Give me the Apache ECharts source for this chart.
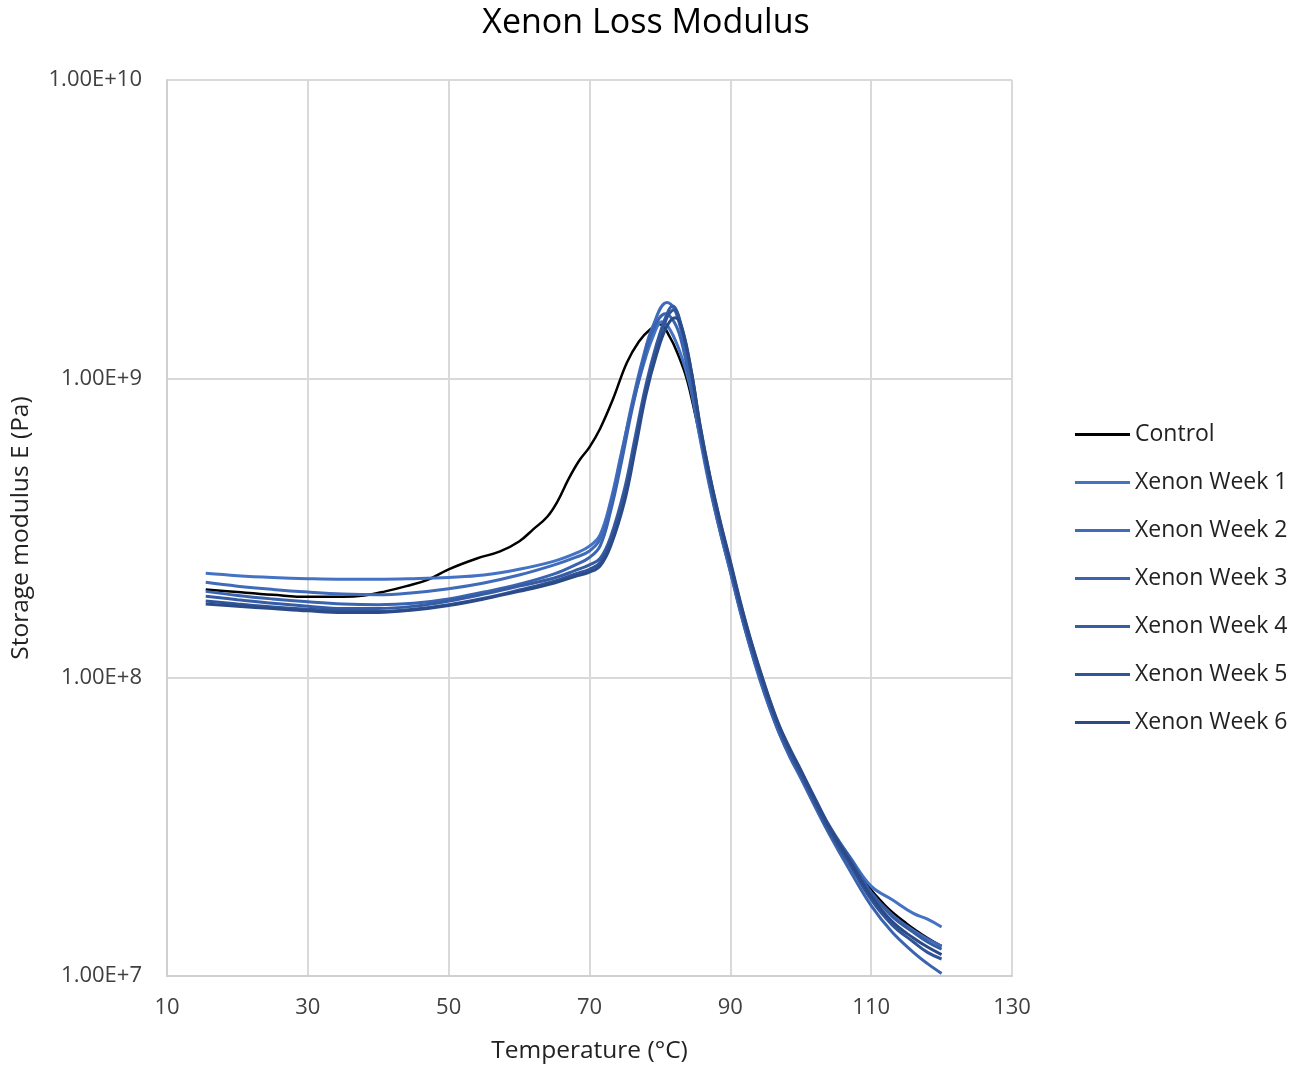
<!DOCTYPE html>
<html>
<head>
<meta charset="utf-8">
<script src="https://cdn.jsdelivr.net/npm/echarts@6/dist/echarts.min.js"></script>
<style>html,body{margin:0;padding:0;background:#fff}#c{width:1305px;height:1069px}</style>
</head>
<body>
<div id="c"></div>
<script>
const seriesNames = ['Control','Xenon Week 1','Xenon Week 2','Xenon Week 3','Xenon Week 4','Xenon Week 5','Xenon Week 6'];
const xTicks = [10,30,50,70,90,110,130];

const control = [[15.5,1.97e8],[20,1.93e8],[25,1.89e8],[30,1.86e8],[35,1.86e8],[38,1.88e8],[41,1.94e8],[44,2.02e8],[47,2.12e8],[50,2.3e8],[54,2.5e8],[57.3,2.64e8],[60,2.85e8],[62,3.13e8],[64,3.45e8],[65.5,3.9e8],[67,4.6e8],[68.5,5.3e8],[70,5.9e8],[71.5,6.8e8],[73.3,8.5e8],[75.3,1.13e9],[77,1.33e9],[78.6,1.46e9],[80,1.52e9],[81.4,1.38e9],[82.6,1.2e9],[83.8,1.0e9],[85,7.6e8],[85.7,6.35e8],[87.1,4.35e8],[88.5,3.1e8],[90,2.26e8],[91.4,1.67e8],[92.8,1.27e8],[94.2,9.9e7],[95.6,7.95e7],[97,6.52e7],[98.5,5.45e7],[100,4.66e7],[103,3.45e7],[106,2.65e7],[109,2.08e7],[112,1.72e7],[115,1.5e7],[118,1.34e7],[120,1.26e7]];

const week1 = [[15.5,2.23e8],[20,2.19e8],[25,2.16e8],[30,2.14e8],[35,2.13e8],[40,2.13e8],[45,2.14e8],[50,2.16e8],[55,2.2e8],[60,2.3e8],[65,2.45e8],[68,2.6e8],[70,2.75e8],[71.5,3.0e8],[73,3.9e8],[74.5,5.6e8],[76,8.0e8],[77.5,1.08e9],[79,1.38e9],[80.3,1.55e9],[81.5,1.45e9],[83,1.2e9],[84.3,9.4e8],[85.7,6.3e8],[87.1,4.3e8],[88.5,3.1e8],[90,2.25e8],[91.4,1.66e8],[92.8,1.26e8],[94.2,9.8e7],[95.6,7.85e7],[97,6.45e7],[98.5,5.42e7],[100,4.68e7],[102,3.82e7],[104,3.15e7],[107,2.5e7],[110,2.0e7],[113,1.8e7],[116,1.62e7],[118,1.55e7],[120,1.46e7]];

const week2 = [[15.5,2.08e8],[20,2.02e8],[25,1.97e8],[30,1.93e8],[35,1.9e8],[40,1.89e8],[45,1.92e8],[50,1.98e8],[55,2.07e8],[60,2.2e8],[65,2.38e8],[68,2.52e8],[70,2.65e8],[71.5,2.9e8],[73,3.8e8],[74.5,5.5e8],[76,8.2e8],[77.5,1.15e9],[79,1.5e9],[81,1.8e9],[82,1.72e9],[83,1.45e9],[84.3,9.9e8],[85.7,6.65e8],[87.1,4.5e8],[88.5,3.22e8],[90,2.33e8],[91.4,1.71e8],[92.8,1.3e8],[94.2,1.01e8],[95.6,8.05e7],[97,6.6e7],[98.5,5.5e7],[100,4.72e7],[102,3.82e7],[104,3.12e7],[107,2.42e7],[110,1.9e7],[113,1.6e7],[116,1.42e7],[118,1.33e7],[120,1.26e7]];

const week3 = [[15.5,1.94e8],[20,1.88e8],[25,1.83e8],[30,1.79e8],[35,1.76e8],[40,1.75e8],[45,1.77e8],[50,1.83e8],[55,1.93e8],[60,2.05e8],[65,2.22e8],[68,2.38e8],[70,2.52e8],[71.5,2.75e8],[73,3.6e8],[74.5,5.2e8],[76,7.8e8],[77.5,1.1e9],[79,1.45e9],[80.8,1.65e9],[82,1.55e9],[83,1.35e9],[84.3,9.7e8],[85.7,6.5e8],[87.1,4.4e8],[88.5,3.16e8],[90,2.29e8],[91.4,1.68e8],[92.8,1.27e8],[94.2,9.9e7],[95.6,7.9e7],[97,6.45e7],[98.5,5.38e7],[100,4.6e7],[102,3.7e7],[104,3.0e7],[107,2.25e7],[110,1.72e7],[113,1.4e7],[116,1.2e7],[118,1.1e7],[120,1.02e7]];

const week4 = [[15.5,1.87e8],[20,1.82e8],[25,1.77e8],[30,1.73e8],[35,1.7e8],[40,1.7e8],[45,1.73e8],[50,1.8e8],[55,1.9e8],[60,2.02e8],[65,2.15e8],[68,2.28e8],[70,2.38e8],[71.5,2.5e8],[73,2.95e8],[75,4.3e8],[76.5,6.4e8],[78,9.5e8],[79.5,1.3e9],[81,1.65e9],[81.8,1.75e9],[83,1.52e9],[84.5,1.04e9],[85.7,6.95e8],[87.1,4.7e8],[88.5,3.35e8],[90,2.42e8],[91.4,1.78e8],[92.8,1.35e8],[94.2,1.05e8],[95.6,8.35e7],[97,6.8e7],[98.5,5.7e7],[100,4.88e7],[102,3.95e7],[104,3.2e7],[107,2.48e7],[110,1.9e7],[113,1.58e7],[116,1.4e7],[118,1.3e7],[120,1.23e7]];

const week5 = [[15.5,1.8e8],[20,1.76e8],[25,1.72e8],[30,1.69e8],[35,1.67e8],[40,1.66e8],[45,1.69e8],[50,1.75e8],[55,1.84e8],[60,1.96e8],[65,2.1e8],[68,2.22e8],[70,2.3e8],[71.5,2.42e8],[73,2.85e8],[75,4.1e8],[76.5,6.1e8],[78,9.2e8],[79.5,1.25e9],[81,1.6e9],[82,1.7e9],[83,1.5e9],[84.5,1.03e9],[85.7,6.8e8],[87.1,4.6e8],[88.5,3.28e8],[90,2.38e8],[91.4,1.74e8],[92.8,1.32e8],[94.2,1.03e8],[95.6,8.2e7],[97,6.7e7],[98.5,5.58e7],[100,4.75e7],[102,3.82e7],[104,3.08e7],[107,2.35e7],[110,1.8e7],[113,1.48e7],[116,1.3e7],[118,1.2e7],[120,1.14e7]];

const week6 = [[15.5,1.76e8],[20,1.73e8],[25,1.7e8],[30,1.67e8],[35,1.65e8],[40,1.65e8],[45,1.68e8],[50,1.74e8],[55,1.83e8],[60,1.94e8],[65,2.07e8],[68,2.18e8],[70,2.25e8],[71.5,2.36e8],[73,2.75e8],[75,3.9e8],[76.5,5.8e8],[78,8.8e8],[79.5,1.2e9],[81,1.5e9],[82.2,1.6e9],[83.2,1.46e9],[84.5,1.05e9],[85.7,7.0e8],[87.1,4.72e8],[88.5,3.38e8],[90,2.45e8],[91.4,1.8e8],[92.8,1.36e8],[94.2,1.06e8],[95.6,8.4e7],[97,6.85e7],[98.5,5.75e7],[100,4.9e7],[102,3.92e7],[104,3.18e7],[107,2.42e7],[110,1.85e7],[113,1.52e7],[116,1.34e7],[118,1.25e7],[120,1.18e7]];

const allData = [control, week1, week2, week3, week4, week5, week6];
const colors = ['#000000','#4472C4','#3F6BBA','#3A64B0','#355CA4','#305498','#2B4A88'];
const font = '"Open Sans", "Liberation Sans", sans-serif';

const chart = echarts.init(document.getElementById('c'));
chart.setOption({
  animation: false,
  backgroundColor: '#ffffff',
  title: {
    text: 'Xenon Loss Modulus',
    left: 641, top: 1, textAlign: 'center',
    textStyle: { fontFamily: font, fontSize: 34, fontWeight: 'normal', color: '#000' }
  },
  legend: {
    orient: 'vertical', left: 1075, top: 423, padding: 0,
    itemWidth: 55, itemHeight: 3, itemGap: 25, icon: 'rect',
    textStyle: { fontFamily: font, fontSize: 23, color: '#222', lineHeight: 23 },
    data: seriesNames
  },
  grid: { left: 167, right: 293, top: 80, bottom: 92, containLabel: false },
  xAxis: {
    type: 'value', min: 10, max: 130, interval: 20,
    name: 'Temperature (°C)', nameLocation: 'middle', nameGap: 63,
    nameTextStyle: { fontFamily: font, fontSize: 24.5, color: '#222' },
    axisLine: { show: true, lineStyle: { color: '#d0d0d0', width: 2 } },
    axisTick: { show: false },
    axisLabel: { fontFamily: font, fontSize: 22, color: '#404040', margin: 21 },
    splitLine: { show: true, lineStyle: { color: '#d9d9d9', width: 2 } }
  },
  yAxis: {
    type: 'log', logBase: 10, min: 1e7, max: 1e10,
    name: 'Storage modulus E (Pa)', nameLocation: 'middle', nameGap: 133,
    nameTextStyle: { fontFamily: font, fontSize: 24.5, color: '#222' },
    axisLine: { show: true, lineStyle: { color: '#d0d0d0', width: 2 } },
    axisTick: { show: false },
    axisLabel: { fontFamily: font, fontSize: 22, color: '#404040', margin: 25,
      formatter: v => Number(v).toExponential(2).toUpperCase() },
    splitLine: { show: true, lineStyle: { color: '#d9d9d9', width: 2 } }
  },
  series: allData.map((d, i) => ({
    name: seriesNames[i], type: 'line', data: d, smooth: 0.4, showSymbol: false,
    z: i === 0 ? 1 : 2 + i,
    lineStyle: { color: colors[i], width: i === 0 ? 2.5 : 3 },
    itemStyle: { color: colors[i] }
  }))
});
</script>
</body>
</html>
